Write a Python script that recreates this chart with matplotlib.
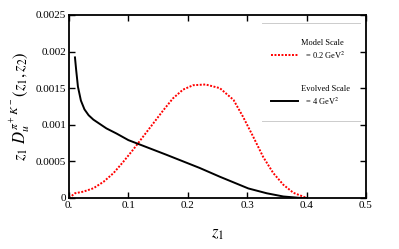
import matplotlib
matplotlib.use("Agg")
import matplotlib.pyplot as plt
from matplotlib.lines import Line2D

plt.rcParams["font.family"] = ["Liberation Serif", "DejaVu Serif"]
plt.rcParams["mathtext.fontset"] = "stix"

# Model scale (0.2 GeV^2), red dotted
z_model = [0.0, 0.01, 0.024, 0.041, 0.058, 0.075, 0.091, 0.108, 0.125, 0.142,
           0.159, 0.175, 0.192, 0.209, 0.23, 0.254, 0.277, 0.293, 0.310, 0.327,
           0.344, 0.361, 0.378, 0.394, 0.40]
d_model = [0.0, 0.000064, 0.000086, 0.000132, 0.00022, 0.00034, 0.00049, 0.00066,
           0.00084, 0.00102, 0.0012, 0.00136, 0.00148, 0.00154, 0.00155, 0.0015,
           0.00134, 0.00111, 0.00084, 0.00056, 0.00034, 0.00018, 0.00007, 0.00002, 0.0]

# Evolved scale (4 GeV^2), black solid
z_evol = [0.01, 0.012, 0.015, 0.02, 0.026, 0.033, 0.041, 0.052, 0.063, 0.080, 0.10,
          0.116, 0.164, 0.22, 0.254, 0.302, 0.333, 0.361, 0.39, 0.40]
d_evol = [0.00192, 0.00175, 0.00152, 0.00133, 0.00121, 0.00113, 0.00107, 0.00101,
          0.00095, 0.00088, 0.00079, 0.00074, 0.00059, 0.00041, 0.00029, 0.00013,
          0.000064, 0.00002, 0.0, 0.0]

xticks = [0.0, 0.1, 0.2, 0.3, 0.4, 0.5]
xticklabels = ["0.", "0.1", "0.2", "0.3", "0.4", "0.5"]
yticks = [0, 0.0005, 0.001, 0.0015, 0.002, 0.0025]
yticklabels = ["0", "0.0005", "0.001", "0.0015", "0.002", "0.0025"]

fig = plt.figure(figsize=(3.99, 2.49), dpi=100)
ax = fig.add_axes([0.173, 0.205, 0.744, 0.735])

ax.plot(z_model, d_model, color="red", linestyle=(0, (1, 0.8)), linewidth=1.4)
ax.plot(z_evol, d_evol, color="black", linewidth=1.4)

ax.set_xlim(0, 0.5)
ax.set_ylim(0, 0.0025)
ax.set_xticks(xticks)
ax.set_xticklabels(xticklabels)
ax.set_yticks(yticks)
ax.set_yticklabels(yticklabels)
ax.tick_params(direction="in", top=True, right=True, length=4, width=1,
               labelsize=8, pad=2)
for s in ax.spines.values():
    s.set_linewidth(1.3)

ax.set_xlabel("$z_1$", fontsize=12, labelpad=12)
ax.set_ylabel("$z_1\\ D_u^{\\pi^+K^-}(z_1,z_2)$", fontsize=12, labelpad=2)

handles = [Line2D([], [], color="red", linestyle=(0, (1, 0.8)), linewidth=1.4),
           Line2D([], [], color="black", linewidth=1.4)]
labels = ["Model Scale\n  = 0.2 GeV$^2$\n", "Evolved Scale\n  = 4 GeV$^2$\n"]
leg = ax.legend(handles, labels, loc="upper right", bbox_to_anchor=(0.99, 0.935),
                frameon=False, fontsize=6, handlelength=3.3, labelspacing=1.85,
                borderpad=1.0, handletextpad=0.35)

# thin grey lines above and below the legend
ax.axhline(0.00239, xmin=0.65, xmax=0.98, color="#cccccc", linewidth=0.7)
ax.axhline(0.00105, xmin=0.65, xmax=0.98, color="#cccccc", linewidth=0.7)

fig.savefig("out.png", dpi=100)
